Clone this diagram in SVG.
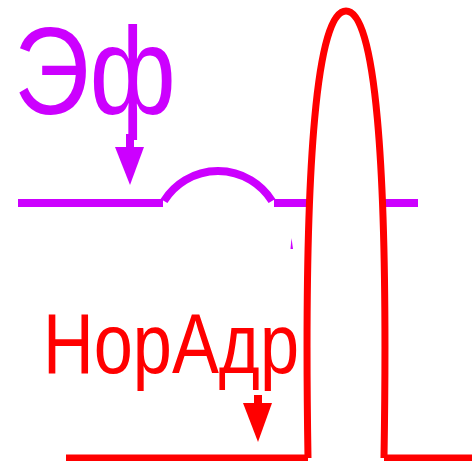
<svg xmlns="http://www.w3.org/2000/svg" width="472" height="461" viewBox="0 0 472 461">
<style>
.p{stroke:#CC00FF;stroke-width:8;fill:none}
.r{stroke:#FF0000;stroke-width:7;fill:none}
.pt{fill:#CC00FF;font-family:"Liberation Sans",Arial,sans-serif}
.rt{fill:#FF0000;font-family:"Liberation Sans",Arial,sans-serif}
</style>
<rect width="472" height="461" fill="#fff"/>
<g id="ef-trace">
<path class="p" d="M18 203H163M164 201A63.6 63.6 0 0 1 272 201M274 203H418"/>
<polygon points="291.5,238 293,249 290.5,249" fill="#CC00FF"/>
</g>
<g id="noradr-trace">
<path class="r" d="M66 458H308M308 458C303 150 318 11 346 11C374 11 389 150 384 458M384 458H472" fill="#fff" style="fill:#fff"/>
</g>
<g id="ef-label">
<text class="pt" x="14" y="114" font-size="125" textLength="162" lengthAdjust="spacingAndGlyphs">Эф</text>
</g>
<g id="noradr-label">
<text class="rt" x="43" y="373" font-size="85" textLength="256" lengthAdjust="spacingAndGlyphs">НорАдр</text>
</g>
<g id="connectors">
<line x1="130" y1="134" x2="130" y2="150" stroke="#CC00FF" stroke-width="8"/>
<polygon points="115,147 144,147 130,185" fill="#CC00FF"/>
<line x1="258" y1="395" x2="258" y2="405" stroke="#FF0000" stroke-width="8"/>
<polygon points="243,403 272,403 258,442" fill="#FF0000"/>
</g>
</svg>
